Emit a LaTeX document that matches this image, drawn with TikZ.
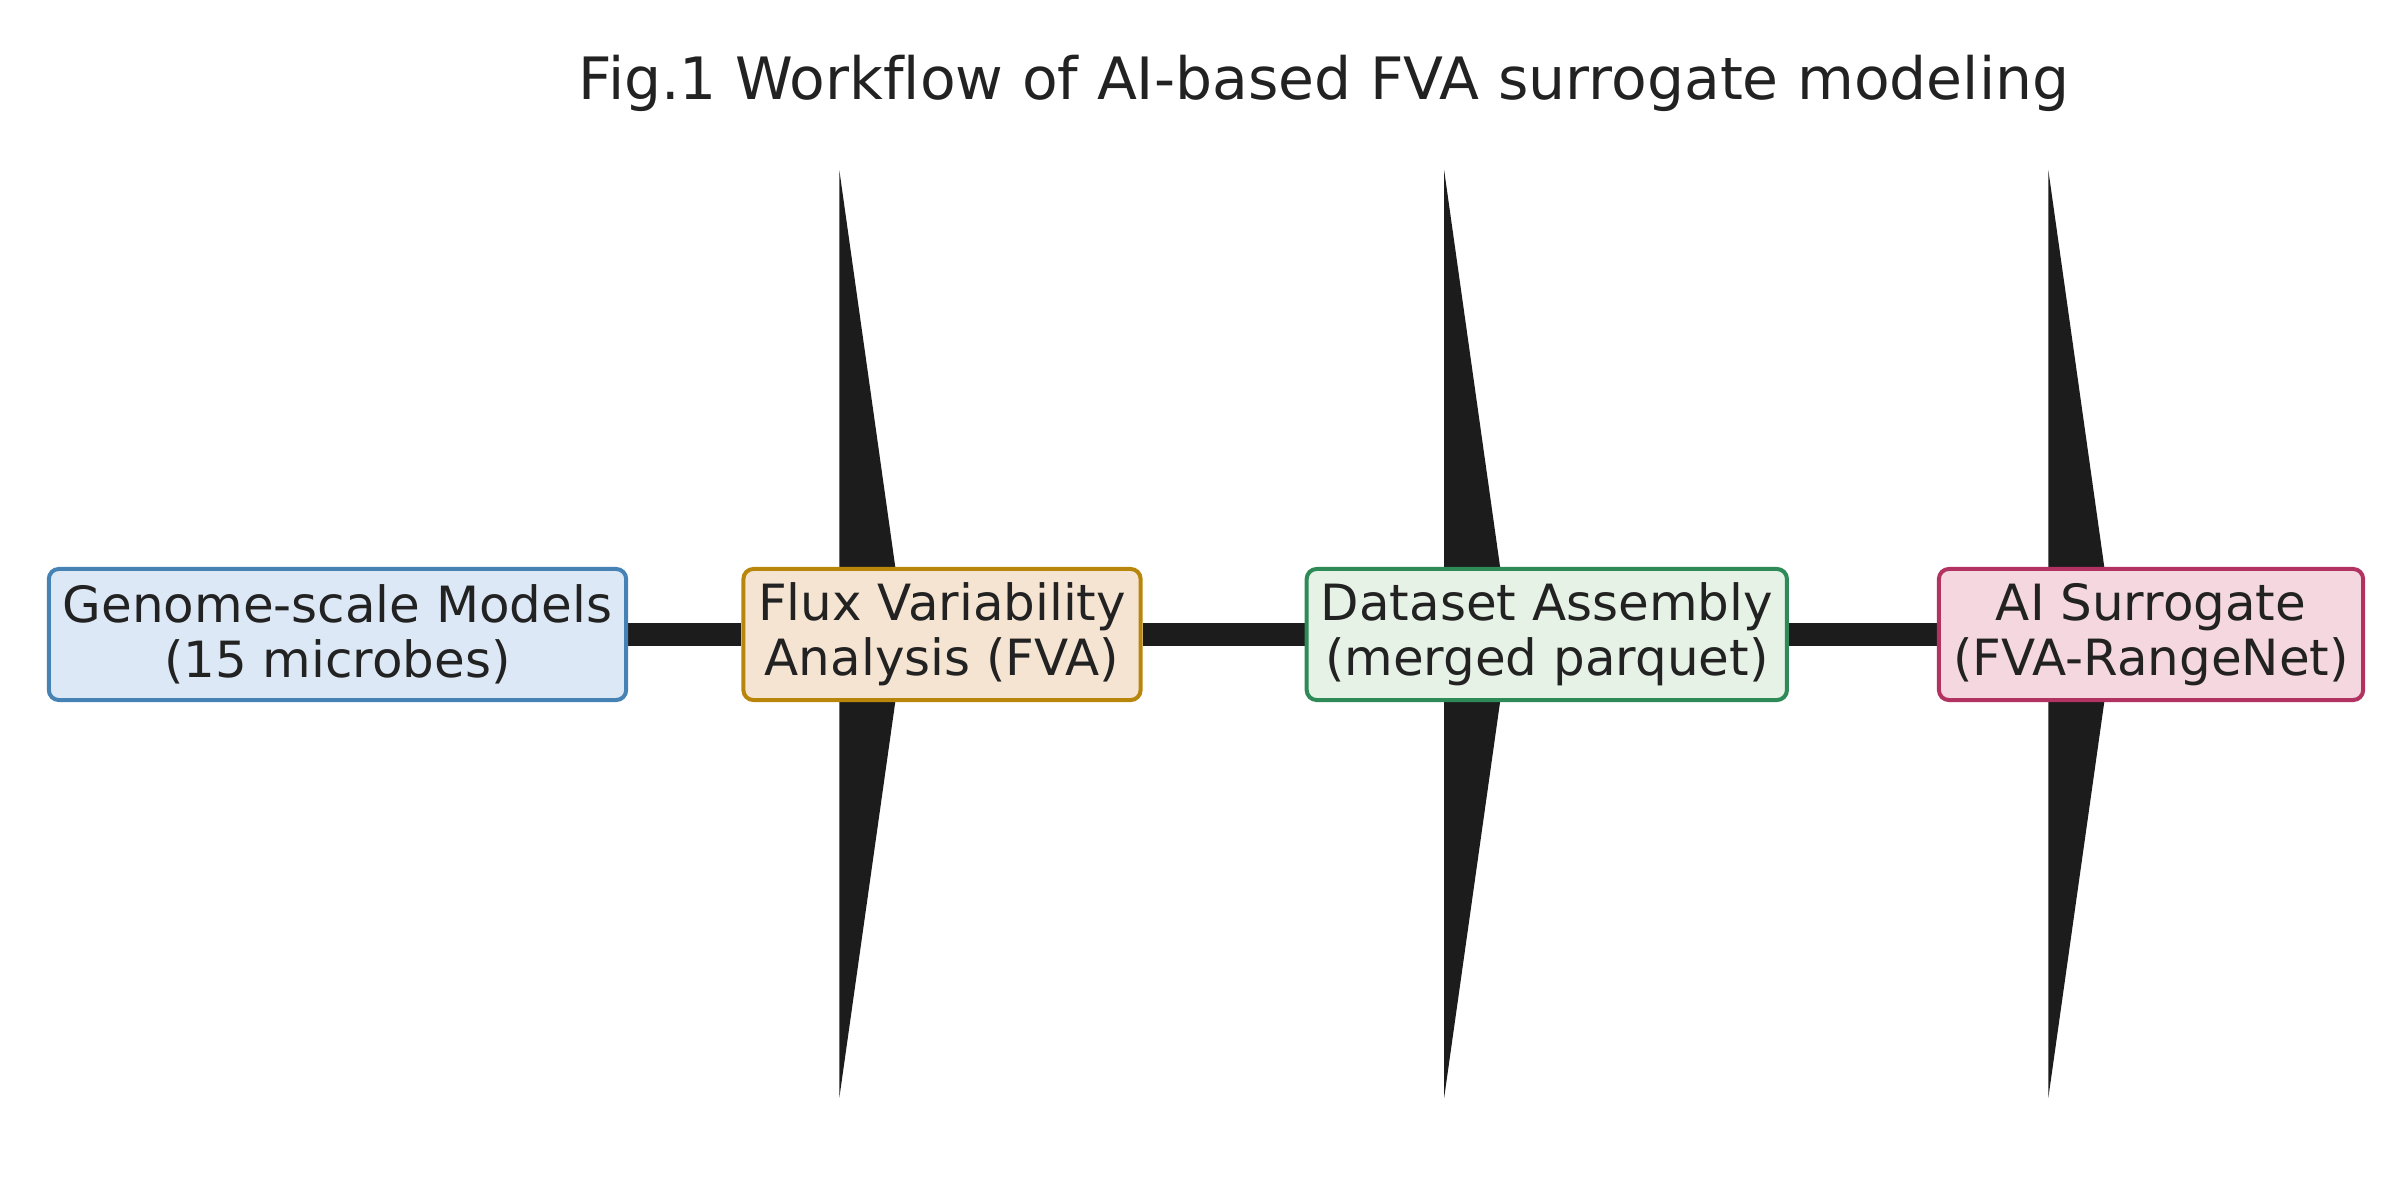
\documentclass[tikz,border=0pt]{standalone}
\usepackage{fontspec}
\setmainfont{DejaVu Sans}[Ligatures=NoCommon]
\usetikzlibrary{calc,backgrounds}
\definecolor{txt}{RGB}{34,34,34}
\definecolor{conn}{RGB}{28,28,28}
\definecolor{bAfill}{RGB}{220,232,245}
\definecolor{bAdraw}{RGB}{70,130,180}
\definecolor{bBfill}{RGB}{245,228,209}
\definecolor{bBdraw}{RGB}{184,134,11}
\definecolor{bCfill}{RGB}{230,242,230}
\definecolor{bCdraw}{RGB}{46,139,87}
\definecolor{bDfill}{RGB}{245,216,223}
\definecolor{bDdraw}{RGB}{178,50,98}
\tikzset{
  stepbox/.style={draw, line width=0.04cm, rounded corners=0.1cm, inner sep=0pt,
    minimum height=1.31cm, align=center, text=txt,
    font=\fontsize{14.2pt}{15.65pt}\selectfont},
  link/.style={draw=conn, line width=0.23cm},
  bigtip/.style={fill=conn},
}
\begin{document}
\begin{tikzpicture}[x=0.01cm,y=-0.01cm]
\useasboundingbox (0,0) rectangle (2400,1200);
\node[anchor=base, text=txt, font=\fontsize{16.6pt}{19pt}\selectfont] (title) at (1324,99)
  {Fig.1 Workflow of AI-based FVA surrogate modeling};
\node[stepbox, fill=bAfill, draw=bAdraw, minimum width=5.77cm] (gsm) at (337.5,634.5)
  {Genome-scale Models\\(15 microbes)};
\node[stepbox, fill=bBfill, draw=bBdraw, minimum width=3.97cm] (fva) at (942,634.5)
  {Flux Variability\\Analysis (FVA)};
\node[stepbox, fill=bCfill, draw=bCdraw, minimum width=4.80cm] (data) at (1546.8,634.5)
  {Dataset Assembly\\(merged parquet)};
\node[stepbox, fill=bDfill, draw=bDdraw, minimum width=4.24cm] (ai) at (2151,634.5)
  {AI Surrogate\\(FVA-RangeNet)};
\begin{scope}[on background layer]
\foreach \a/\b in {gsm/fva, fva/data, data/ai}{
  \draw[link] (\a.east) -- (\b.west);
  \fill[bigtip] ($(\b.center)+(-102.7,-464.5)$) -- ($(\b.center)+(-37.2,0)$)
     -- ($(\b.center)+(-102.7,463.5)$) -- cycle;
}
\end{scope}
\end{tikzpicture}
\end{document}
